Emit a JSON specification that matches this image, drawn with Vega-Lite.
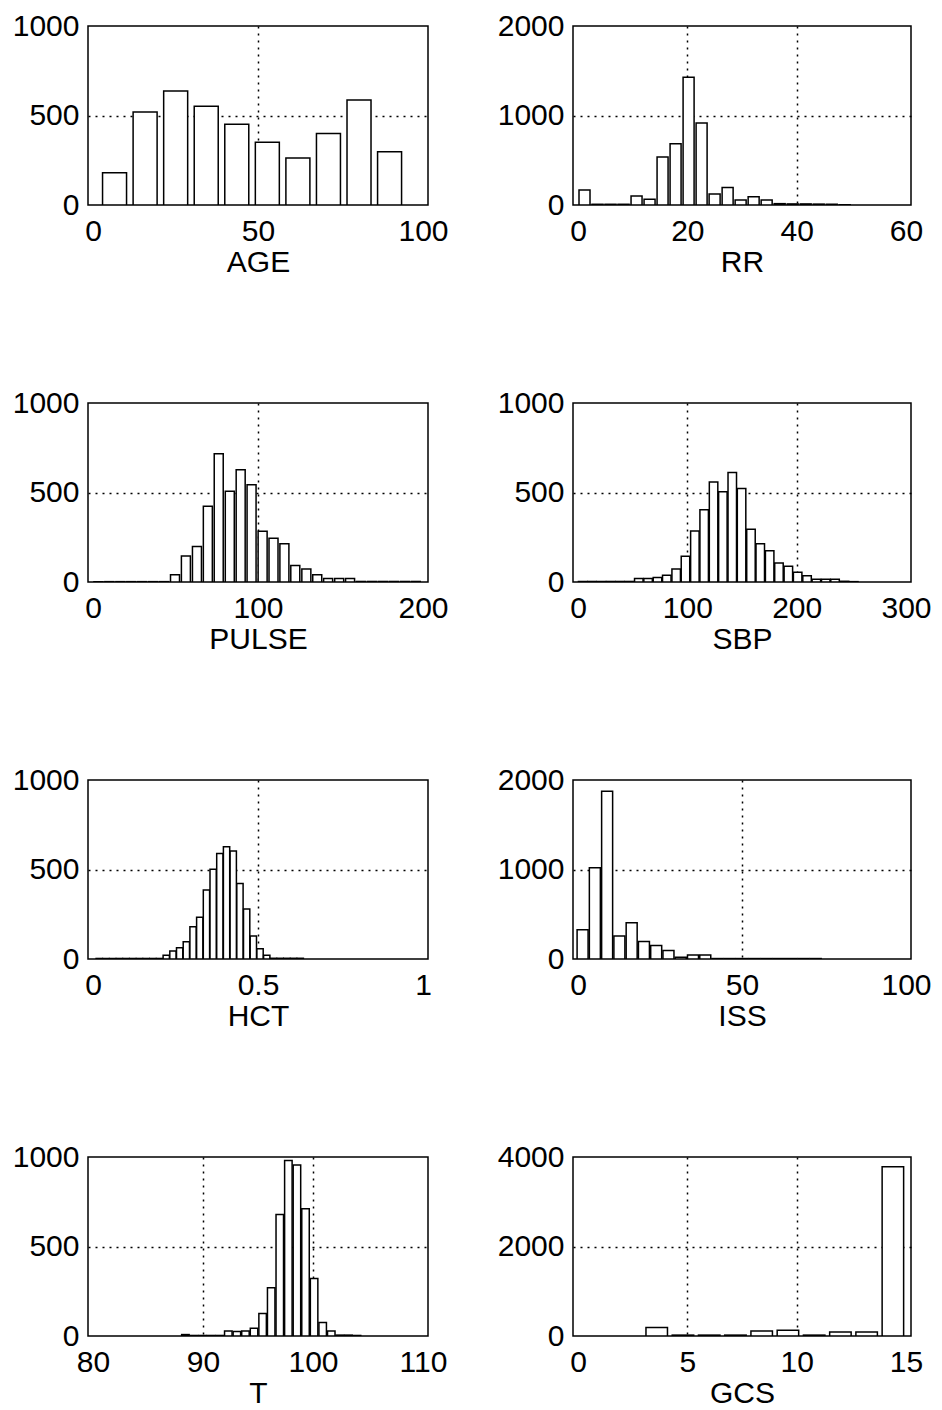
{
  "$schema": "https://vega.github.io/schema/vega-lite/v6.json",
  "background": "white",
  "padding": {"left": 11, "top": 10, "right": 0, "bottom": 0},
  "datasets": {
    "AGE": [
      {"x": 6.53, "n": 180}, {"x": 15.79, "n": 519}, {"x": 25.05, "n": 637}, {"x": 34.31, "n": 552}, {"x": 43.57, "n": 451},
      {"x": 52.83, "n": 350}, {"x": 62.09, "n": 263}, {"x": 71.35, "n": 400}, {"x": 80.61, "n": 587}, {"x": 89.87, "n": 297}
    ],
    "RR": [
      {"x": 1.19, "n": 167}, {"x": 3.57, "n": 8}, {"x": 5.95, "n": 8}, {"x": 8.33, "n": 8}, {"x": 10.71, "n": 100},
      {"x": 13.09, "n": 63}, {"x": 15.47, "n": 537}, {"x": 17.85, "n": 685}, {"x": 20.23, "n": 1426}, {"x": 22.61, "n": 915},
      {"x": 24.99, "n": 122}, {"x": 27.37, "n": 196}, {"x": 29.75, "n": 56}, {"x": 32.13, "n": 93}, {"x": 34.51, "n": 56},
      {"x": 36.89, "n": 15}, {"x": 39.27, "n": 12}, {"x": 41.65, "n": 12}, {"x": 44.03, "n": 10}, {"x": 46.41, "n": 8},
      {"x": 48.79, "n": 3}
    ],
    "PULSE": [
      {"x": 3.3, "n": 2}, {"x": 9.9, "n": 2}, {"x": 16.6, "n": 2}, {"x": 23.2, "n": 2}, {"x": 29.8, "n": 2},
      {"x": 36.5, "n": 2}, {"x": 43.1, "n": 2}, {"x": 49.7, "n": 40}, {"x": 56.3, "n": 145}, {"x": 63.0, "n": 199},
      {"x": 69.6, "n": 423}, {"x": 76.2, "n": 717}, {"x": 82.9, "n": 507}, {"x": 89.5, "n": 627}, {"x": 96.1, "n": 543},
      {"x": 102.8, "n": 283}, {"x": 109.4, "n": 245}, {"x": 116.0, "n": 214}, {"x": 122.6, "n": 92}, {"x": 129.3, "n": 73},
      {"x": 135.9, "n": 40}, {"x": 142.5, "n": 19}, {"x": 149.2, "n": 19}, {"x": 155.8, "n": 19}, {"x": 162.4, "n": 3},
      {"x": 169.1, "n": 3}, {"x": 175.7, "n": 3}, {"x": 182.3, "n": 3}, {"x": 189.0, "n": 3}, {"x": 195.6, "n": 3}
    ],
    "SBP": [
      {"x": 4.3, "n": 3}, {"x": 12.8, "n": 3}, {"x": 21.4, "n": 3}, {"x": 29.9, "n": 3}, {"x": 38.5, "n": 3},
      {"x": 47.0, "n": 3}, {"x": 55.6, "n": 19}, {"x": 64.1, "n": 19}, {"x": 72.7, "n": 25}, {"x": 81.2, "n": 38},
      {"x": 89.8, "n": 73}, {"x": 98.3, "n": 144}, {"x": 106.9, "n": 285}, {"x": 115.4, "n": 404}, {"x": 124.0, "n": 558},
      {"x": 132.5, "n": 504}, {"x": 141.1, "n": 612}, {"x": 149.6, "n": 523}, {"x": 158.2, "n": 294}, {"x": 166.7, "n": 213},
      {"x": 175.3, "n": 175}, {"x": 183.8, "n": 106}, {"x": 192.4, "n": 88}, {"x": 200.9, "n": 54}, {"x": 209.5, "n": 35},
      {"x": 218.0, "n": 15}, {"x": 226.6, "n": 15}, {"x": 235.1, "n": 15}, {"x": 243.7, "n": 4}, {"x": 252.2, "n": 2}
    ],
    "HCT": [
      {"x": 0.019, "n": 3}, {"x": 0.0393, "n": 3}, {"x": 0.0596, "n": 3}, {"x": 0.0799, "n": 3}, {"x": 0.1002, "n": 3},
      {"x": 0.1205, "n": 3}, {"x": 0.1408, "n": 3}, {"x": 0.1611, "n": 3}, {"x": 0.1814, "n": 3}, {"x": 0.2017, "n": 3},
      {"x": 0.222, "n": 21}, {"x": 0.2423, "n": 44}, {"x": 0.2626, "n": 63}, {"x": 0.2829, "n": 97}, {"x": 0.3032, "n": 180},
      {"x": 0.3235, "n": 233}, {"x": 0.3438, "n": 385}, {"x": 0.3641, "n": 502}, {"x": 0.3844, "n": 589}, {"x": 0.4047, "n": 627},
      {"x": 0.425, "n": 604}, {"x": 0.4453, "n": 422}, {"x": 0.4656, "n": 280}, {"x": 0.4859, "n": 129}, {"x": 0.5062, "n": 57},
      {"x": 0.5265, "n": 21}, {"x": 0.5468, "n": 4}, {"x": 0.5671, "n": 4}, {"x": 0.5874, "n": 4}, {"x": 0.6077, "n": 4},
      {"x": 0.628, "n": 4}
    ],
    "ISS": [
      {"x": 1.4, "n": 328}, {"x": 5.14, "n": 1019}, {"x": 8.88, "n": 1875}, {"x": 12.62, "n": 257}, {"x": 16.36, "n": 404},
      {"x": 20.1, "n": 196}, {"x": 23.84, "n": 151}, {"x": 27.58, "n": 94}, {"x": 31.32, "n": 19}, {"x": 35.06, "n": 45},
      {"x": 38.8, "n": 45}, {"x": 42.54, "n": 5}, {"x": 46.28, "n": 5}, {"x": 50.02, "n": 5}, {"x": 53.76, "n": 5},
      {"x": 57.5, "n": 5}, {"x": 61.24, "n": 5}, {"x": 64.98, "n": 5}, {"x": 68.72, "n": 5}, {"x": 72.46, "n": 5}
    ],
    "T": [
      {"x": 88.4, "n": 8}, {"x": 89.18, "n": 3}, {"x": 89.96, "n": 3}, {"x": 90.74, "n": 3}, {"x": 91.52, "n": 3},
      {"x": 92.3, "n": 28}, {"x": 93.08, "n": 25}, {"x": 93.86, "n": 28}, {"x": 94.64, "n": 43}, {"x": 95.42, "n": 126},
      {"x": 96.2, "n": 270}, {"x": 96.98, "n": 679}, {"x": 97.76, "n": 980}, {"x": 98.54, "n": 955}, {"x": 99.32, "n": 711},
      {"x": 100.1, "n": 321}, {"x": 100.88, "n": 75}, {"x": 101.66, "n": 28}, {"x": 102.44, "n": 5}, {"x": 103.22, "n": 5},
      {"x": 104.0, "n": 3}
    ],
    "GCS": [
      {"x": 3.6, "n": 188}, {"x": 4.8, "n": 20}, {"x": 6.0, "n": 20}, {"x": 7.2, "n": 20}, {"x": 8.4, "n": 113},
      {"x": 9.6, "n": 128}, {"x": 10.8, "n": 20}, {"x": 12.0, "n": 90}, {"x": 13.2, "n": 90}, {"x": 14.4, "n": 3782}
    ]
  },
  "columns": 2,
  "bounds": "flush",
  "spacing": {"row": 198, "column": 145},
  "concat": [
    {
      "data": {"name": "AGE"}, "width": 340, "height": 179,
      "mark": {"type": "bar", "orient": "vertical", "fill": "white", "stroke": "black", "strokeWidth": 1.5, "width": 24, "clip": true},
      "encoding": {
        "x": {"field": "x", "type": "quantitative", "scale": {"domain": [0, 100], "nice": false, "zero": false}, "axis": {"values": [0, 50, 100], "title": "AGE", "gridOpacity": {"condition": {"test": "datum.value == 0 || datum.value == 100", "value": 0}, "value": 1}}},
        "y": {"field": "n", "type": "quantitative", "scale": {"domain": [0, 1000], "nice": false}, "axis": {"values": [0, 500, 1000], "gridOpacity": {"condition": {"test": "datum.value == 0 || datum.value == 1000", "value": 0}, "value": 1}}}
      }
    },
    {
      "data": {"name": "RR"}, "width": 338, "height": 179,
      "mark": {"type": "bar", "orient": "vertical", "fill": "white", "stroke": "black", "strokeWidth": 1.5, "width": 11, "clip": true},
      "encoding": {
        "x": {"field": "x", "type": "quantitative", "scale": {"domain": [0, 60], "nice": false, "zero": false}, "axis": {"values": [0, 20, 40, 60], "title": "RR", "gridOpacity": {"condition": {"test": "datum.value == 0 || datum.value == 60", "value": 0}, "value": 1}}},
        "y": {"field": "n", "type": "quantitative", "scale": {"domain": [0, 2000], "nice": false}, "axis": {"values": [0, 1000, 2000], "gridOpacity": {"condition": {"test": "datum.value == 0 || datum.value == 2000", "value": 0}, "value": 1}}}
      }
    },
    {
      "data": {"name": "PULSE"}, "width": 340, "height": 179,
      "mark": {"type": "bar", "orient": "vertical", "fill": "white", "stroke": "black", "strokeWidth": 1.5, "width": 9, "clip": true},
      "encoding": {
        "x": {"field": "x", "type": "quantitative", "scale": {"domain": [0, 200], "nice": false, "zero": false}, "axis": {"values": [0, 100, 200], "title": "PULSE", "gridOpacity": {"condition": {"test": "datum.value == 0 || datum.value == 200", "value": 0}, "value": 1}}},
        "y": {"field": "n", "type": "quantitative", "scale": {"domain": [0, 1000], "nice": false}, "axis": {"values": [0, 500, 1000], "gridOpacity": {"condition": {"test": "datum.value == 0 || datum.value == 1000", "value": 0}, "value": 1}}}
      }
    },
    {
      "data": {"name": "SBP"}, "width": 338, "height": 179,
      "mark": {"type": "bar", "orient": "vertical", "fill": "white", "stroke": "black", "strokeWidth": 1.5, "width": 8.5, "clip": true},
      "encoding": {
        "x": {"field": "x", "type": "quantitative", "scale": {"domain": [0, 300], "nice": false, "zero": false}, "axis": {"values": [0, 100, 200, 300], "title": "SBP", "gridOpacity": {"condition": {"test": "datum.value == 0 || datum.value == 300", "value": 0}, "value": 1}}},
        "y": {"field": "n", "type": "quantitative", "scale": {"domain": [0, 1000], "nice": false}, "axis": {"values": [0, 500, 1000], "gridOpacity": {"condition": {"test": "datum.value == 0 || datum.value == 1000", "value": 0}, "value": 1}}}
      }
    },
    {
      "data": {"name": "HCT"}, "width": 340, "height": 179,
      "mark": {"type": "bar", "orient": "vertical", "fill": "white", "stroke": "black", "strokeWidth": 1.5, "width": 6.3, "clip": true},
      "encoding": {
        "x": {"field": "x", "type": "quantitative", "scale": {"domain": [0, 1], "nice": false, "zero": false}, "axis": {"values": [0, 0.5, 1], "title": "HCT", "gridOpacity": {"condition": {"test": "datum.value == 0 || datum.value == 1", "value": 0}, "value": 1}}},
        "y": {"field": "n", "type": "quantitative", "scale": {"domain": [0, 1000], "nice": false}, "axis": {"values": [0, 500, 1000], "gridOpacity": {"condition": {"test": "datum.value == 0 || datum.value == 1000", "value": 0}, "value": 1}}}
      }
    },
    {
      "data": {"name": "ISS"}, "width": 338, "height": 179,
      "mark": {"type": "bar", "orient": "vertical", "fill": "white", "stroke": "black", "strokeWidth": 1.5, "width": 11, "clip": true},
      "encoding": {
        "x": {"field": "x", "type": "quantitative", "scale": {"domain": [0, 100], "nice": false, "zero": false}, "axis": {"values": [0, 50, 100], "title": "ISS", "gridOpacity": {"condition": {"test": "datum.value == 0 || datum.value == 100", "value": 0}, "value": 1}}},
        "y": {"field": "n", "type": "quantitative", "scale": {"domain": [0, 2000], "nice": false}, "axis": {"values": [0, 1000, 2000], "gridOpacity": {"condition": {"test": "datum.value == 0 || datum.value == 2000", "value": 0}, "value": 1}}}
      }
    },
    {
      "data": {"name": "T"}, "width": 340, "height": 179,
      "mark": {"type": "bar", "orient": "vertical", "fill": "white", "stroke": "black", "strokeWidth": 1.5, "width": 7.5, "clip": true},
      "encoding": {
        "x": {"field": "x", "type": "quantitative", "scale": {"domain": [80, 110], "nice": false, "zero": false}, "axis": {"values": [80, 90, 100, 110], "title": "T", "gridOpacity": {"condition": {"test": "datum.value == 80 || datum.value == 110", "value": 0}, "value": 1}}},
        "y": {"field": "n", "type": "quantitative", "scale": {"domain": [0, 1000], "nice": false}, "axis": {"values": [0, 500, 1000], "gridOpacity": {"condition": {"test": "datum.value == 0 || datum.value == 1000", "value": 0}, "value": 1}}}
      }
    },
    {
      "data": {"name": "GCS"}, "width": 338, "height": 179,
      "mark": {"type": "bar", "orient": "vertical", "fill": "white", "stroke": "black", "strokeWidth": 1.5, "width": 21.5, "clip": true},
      "encoding": {
        "x": {"field": "x", "type": "quantitative", "scale": {"domain": [0, 15], "nice": false, "zero": false}, "axis": {"values": [0, 5, 10, 15], "title": "GCS", "gridOpacity": {"condition": {"test": "datum.value == 0 || datum.value == 15", "value": 0}, "value": 1}}},
        "y": {"field": "n", "type": "quantitative", "scale": {"domain": [0, 4000], "nice": false}, "axis": {"values": [0, 2000, 4000], "gridOpacity": {"condition": {"test": "datum.value == 0 || datum.value == 4000", "value": 0}, "value": 1}}}
      }
    }
  ],
  "config": {
    "font": "Liberation Sans",
    "view": {"stroke": "black", "strokeWidth": 1.5},
    "axis": {
      "labelFont": "Liberation Sans", "labelFontSize": 30, "labelColor": "black",
      "titleFont": "Liberation Sans", "titleFontSize": 30, "titleFontWeight": "normal", "titleColor": "black",
      "ticks": false, "tickSize": 0, "domain": false,
      "grid": true, "gridColor": "black", "gridDash": [2, 5], "gridWidth": 1.5,
      "labelPadding": 9, "labelFlush": false, "labelOverlap": false, "format": "~r"
    },
    "axisX": {"labelPadding": 11, "titlePadding": 1},
    "axisY": {"title": null}
  }
}
